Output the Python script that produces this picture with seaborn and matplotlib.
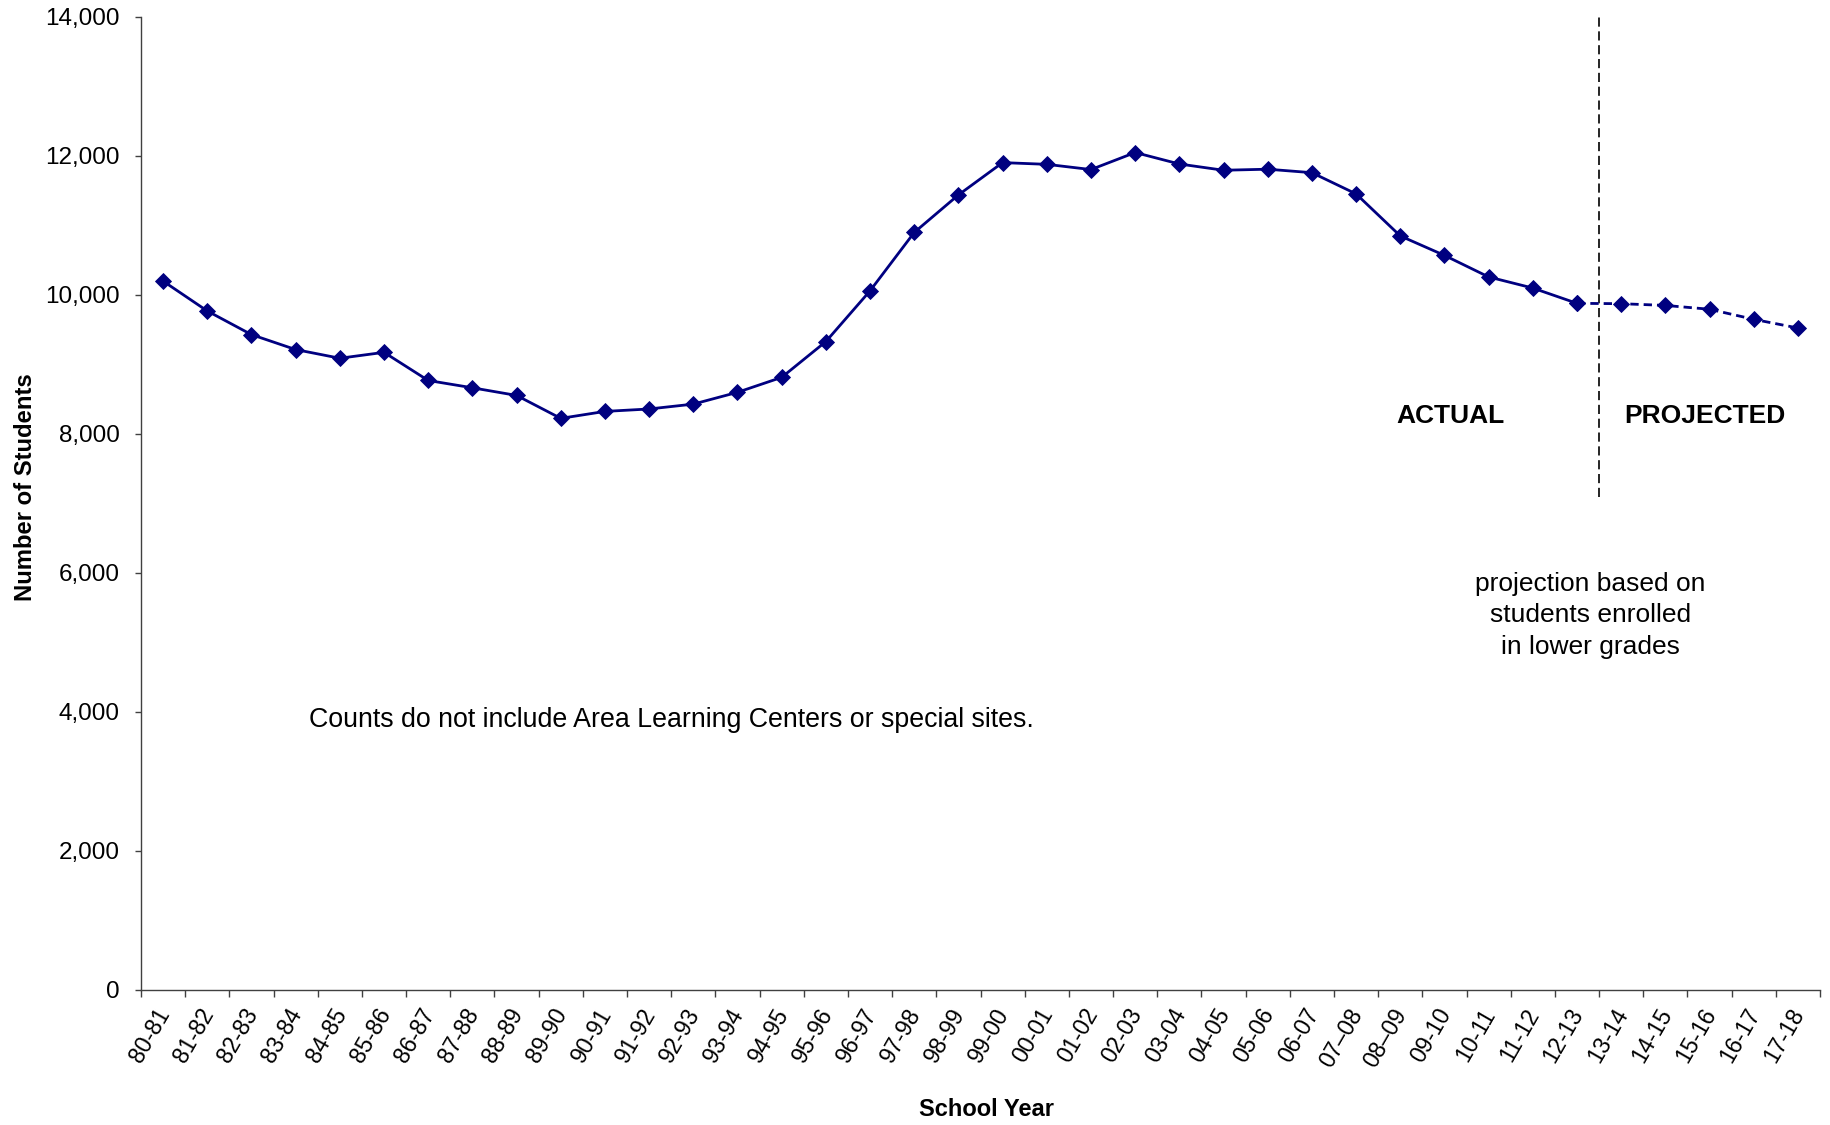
import numpy as np
import pandas as pd
import matplotlib
matplotlib.use("Agg")
import matplotlib.pyplot as plt
import matplotlib.transforms as mtransforms
from matplotlib.ticker import FuncFormatter
import seaborn as sns

# School years shown on the x axis
school_years = [
    "80-81", "81-82", "82-83", "83-84", "84-85", "85-86", "86-87", "87-88",
    "88-89", "89-90", "90-91", "91-92", "92-93", "93-94", "94-95", "95-96",
    "96-97", "97-98", "98-99", "99-00", "00-01", "01-02", "02-03", "03-04",
    "04-05", "05-06", "06-07", "07\u201308", "08\u201309", "09-10", "10-11",
    "11-12", "12-13", "13-14", "14-15", "15-16", "16-17", "17-18",
]

# Enrolled students, 80-81 through 12-13
actual_students = [
    10200, 9770, 9430, 9215, 9090, 9175, 8770, 8665, 8555, 8225, 8325,
    8360, 8430, 8600, 8815, 9330, 10060, 10900, 11440, 11905, 11880, 11805,
    12050, 11885, 11795, 11810, 11760, 11455, 10850, 10570, 10260, 10100,
    9880,
]

# Projected students, 13-14 through 17-18
projected_students = [9875, 9850, 9795, 9650, 9525]

y_ticks = [0, 2000, 4000, 6000, 8000, 10000, 12000, 14000]

NAVY = "#000080"
AXIS_GRAY = "#404040"

sns.set_theme(style="white")
plt.rcParams["font.family"] = ["Liberation Sans", "DejaVu Sans"]
plt.rcParams["text.color"] = "black"
plt.rcParams["axes.labelcolor"] = "black"
plt.rcParams["xtick.color"] = "black"
plt.rcParams["ytick.color"] = "black"

pos = np.arange(len(school_years))
n_act = len(actual_students)
actual_df = pd.DataFrame({"pos": pos[:n_act], "students": actual_students})
proj_df = pd.DataFrame({
    "pos": pos[n_act - 1:],
    "students": [actual_students[-1]] + projected_students,
})

fig = plt.figure(figsize=(18.3, 11.25), dpi=100)
ax = fig.add_axes([0.07705, 0.12, 0.91749, 0.86489])

line_kw = dict(color=NAVY, linewidth=2.0, marker="D", markersize=8.2,
               markeredgecolor=NAVY, markerfacecolor=NAVY,
               markeredgewidth=0.6)
sns.lineplot(data=actual_df, x="pos", y="students", ax=ax, **line_kw)
sns.lineplot(data=proj_df, x="pos", y="students", ax=ax,
             linestyle=(0, (3.0, 1.8)), **line_kw)

# Divider between actual and projected years
ax.vlines(n_act - 0.5, 7100, 14000, colors="black", linewidth=1.2,
          linestyles=[(0, (5.5, 2.8))], zorder=1)

ax.set_xlim(-0.5, len(school_years) - 0.5)
ax.set_ylim(0, 14000)

# Ticks between categories, labels centered on categories
ax.set_xticks(np.arange(-0.5, len(school_years), 1.0))
ax.set_xticklabels([])
ax.set_xticks(pos, labels=school_years, minor=True, rotation=60,
              ha="right", va="baseline", rotation_mode="anchor")
ax.tick_params(axis="x", which="major", direction="out", length=5,
               width=1, color=AXIS_GRAY, bottom=True)
ax.tick_params(axis="x", which="minor", length=0, pad=17,
               labelsize=16.5, labelcolor="black", bottom=True)
shift = mtransforms.ScaledTranslation(0.07, 0, fig.dpi_scale_trans)
for lbl in ax.get_xticklabels(minor=True):
    lbl.set_transform(lbl.get_transform() + shift)

ax.set_yticks(y_ticks)
ax.yaxis.set_major_formatter(FuncFormatter(lambda v, p: f"{v:,.0f}"))
ax.tick_params(axis="y", direction="out", length=4.3, width=1,
               color=AXIS_GRAY, pad=11, labelsize=17.5, labelcolor="black",
               left=True)

for side in ("top", "right"):
    ax.spines[side].set_visible(False)
for side in ("left", "bottom"):
    ax.spines[side].set_color(AXIS_GRAY)
    ax.spines[side].set_linewidth(1.0)

ax.set_xlabel("School Year", fontsize=17, fontweight="bold")
ax.set_ylabel("Number of Students", fontsize=17.2, fontweight="bold")
ax.xaxis.set_label_coords(0.5033, -0.1115)
ax.yaxis.set_label_coords(-0.0621, 0.517)

ax.text(3.30, 3885, "Counts do not include Area Learning Centers or special sites.",
        fontsize=19.3, ha="left", va="center")
ax.text(29.13, 8265, "ACTUAL", fontsize=19, fontweight="bold",
        ha="center", va="center")
ax.text(34.9, 8265, "PROJECTED", fontsize=19, fontweight="bold",
        ha="center", va="center")
ax.text(32.3, 5390, "projection based on\nstudents enrolled\nin lower grades",
        fontsize=19, ha="center", va="center", linespacing=1.38)

fig.savefig("out.png", dpi=100)
